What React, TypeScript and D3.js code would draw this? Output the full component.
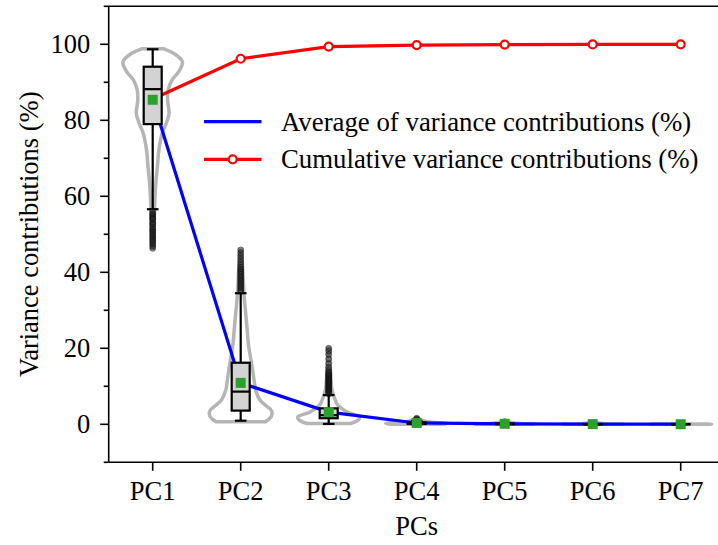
import { useMemo } from "react";
import { area, curveCatmullRom, line, scaleLinear, scalePoint } from "d3";

const WIDTH = 718;
const HEIGHT = 545;

const CATEGORIES = ["PC1", "PC2", "PC3", "PC4", "PC5", "PC6", "PC7"];
const AVERAGE = [85.4, 10.9, 3.2, 0.35, 0.12, 0.05, 0.02];
const CUMULATIVE = [85.6, 96.2, 99.4, 99.8, 99.93, 99.98, 100];

const BOX_Q1 = [79.0, 3.6, 1.6, 0.12, 0.04, 0.01, 0.0];
const BOX_MEDIAN = [88.2, 8.6, 2.4, 0.28, 0.09, 0.03, 0.01];
const BOX_Q3 = [94.1, 16.2, 4.2, 0.5, 0.18, 0.07, 0.03];
const WHISKER_LOW = [56.6, 0.95, 0.1, 0.0, 0.0, 0.0, 0.0];
const WHISKER_HIGH = [98.7, 34.5, 7.7, 0.9, 0.35, 0.14, 0.06];

const OUTLIERS = [
  [56.0, 55.4, 55.1, 54.6, 54.2, 53.9, 53.3, 52.8, 52.5, 51.9, 51.4, 51.0, 50.6, 50.1, 49.7, 49.2, 48.8, 48.4, 47.9, 47.4, 46.9, 46.3],
  [35.0, 35.4, 35.9, 36.3, 36.8, 37.2, 37.7, 38.1, 38.6, 39.0, 39.5, 40.0, 40.4, 40.9, 41.4, 42.0, 42.7, 43.5, 44.3, 45.1, 45.9],
  [8.0, 8.3, 8.6, 8.9, 9.2, 9.5, 9.8, 10.1, 10.4, 10.7, 11.0, 11.3, 11.6, 11.9, 12.2, 12.5, 12.8, 13.1, 13.4, 13.8, 14.3, 15.0, 16.0, 17.2, 18.4, 19.3, 20.0],
  [1.0, 1.2, 1.4, 1.6],
  [0.5, 0.7],
  [],
  [],
];

// [value, relative density]
const VIOLIN_PC1 = [[46.3, 0.03], [54.6, 0.05], [59.0, 0.07], [63.5, 0.1], [67.7, 0.15], [72.2, 0.2], [76.7, 0.31], [79.3, 0.44], [81.9, 0.53], [85.3, 0.48], [88.0, 0.5], [90.6, 0.62], [92.8, 0.84], [95.4, 0.96], [97.5, 0.7], [98.8, 0.36]];
const VIOLIN_PC2 = [[0.7, 0.8], [1.8, 0.97], [3.5, 1.0], [5.0, 0.8], [6.4, 0.62], [9.0, 0.48], [11.7, 0.43], [16.1, 0.35], [20.4, 0.26], [24.8, 0.21], [29.3, 0.16], [33.7, 0.11], [38.0, 0.08], [45.9, 0.03]];
const VIOLIN_PC3 = [[0.2, 0.7], [1.1, 0.95], [1.9, 1.0], [3.3, 0.58], [5.1, 0.29], [6.9, 0.19], [9.0, 0.11], [13.5, 0.06], [20.0, 0.03]];
const VIOLIN_PC4 = [[0.0, 0.8], [0.2, 1.0], [0.5, 0.6], [0.8, 0.25], [1.6, 0.05]];
const VIOLIN_PC5 = [[0.0, 0.8], [0.1, 1.0], [0.3, 0.4], [0.7, 0.04]];
const VIOLIN_PC6 = [[0.0, 0.9], [0.05, 1.0], [0.15, 0.4], [0.4, 0.03]];
const VIOLIN_PC7 = [[0.0, 0.9], [0.03, 1.0], [0.1, 0.4], [0.3, 0.03]];
const VIOLINS = [VIOLIN_PC1, VIOLIN_PC2, VIOLIN_PC3, VIOLIN_PC4, VIOLIN_PC5, VIOLIN_PC6, VIOLIN_PC7];

const Y_TICKS = [0, 20, 40, 60, 80, 100];
const Y_MINOR = [-10, 10, 30, 50, 70, 90, 110];

const FONT = "'Liberation Serif', 'Times New Roman', serif";

export default function App() {
  const left = 108.7;
  const right = 724.7;
  const top = 6.3;
  const bottom = 462.3;

  const x = useMemo(() => scalePoint<string>().domain(CATEGORIES).range([left, right]).padding(0.5), []);
  const y = useMemo(() => scaleLinear().domain([-10, 110]).range([bottom, top]), []);
  const halfWidth = scaleLinear().domain([0, 1]).range([0, 31]);
  const boxHalf = 9;
  const capHalf = 5.8;

  const avgPath = line<number>().x((_, i) => x(CATEGORIES[i])!).y((v) => y(v))(AVERAGE);
  const cumPath = line<number>().x((_, i) => x(CATEGORIES[i])!).y((v) => y(v))(CUMULATIVE);

  return (
    <svg width={WIDTH} height={HEIGHT} style={{ position: "absolute", left: 0, top: 0, background: "#fff" }} fontFamily={FONT}>
      {VIOLINS.map((profile, i) => {
        const cx = x(CATEGORIES[i])!;
        const d = area<number[]>()
          .y((p) => y(p[0]))
          .x0((p) => cx - halfWidth(p[1]))
          .x1((p) => cx + halfWidth(p[1]))
          .curve(curveCatmullRom)(profile);
        return <path key={i} d={d ?? ""} fill="none" stroke="#b5b5b5" strokeWidth={3.5} />;
      })}

      <path d={avgPath ?? ""} fill="none" stroke="#0000ff" strokeWidth={3.2} />
      <path d={cumPath ?? ""} fill="none" stroke="#ff0000" strokeWidth={3.2} />
      {CUMULATIVE.map((v, i) => (
        <circle key={i} cx={x(CATEGORIES[i])} cy={y(v)} r={4} fill="#fff" stroke="#ff0000" strokeWidth={2.2} />
      ))}

      {CATEGORIES.map((c, i) => {
        const cx = x(c)!;
        return (
          <g key={c} stroke="#000" strokeWidth={2.2}>
            <line x1={cx} x2={cx} y1={y(WHISKER_HIGH[i])} y2={y(BOX_Q3[i])} />
            <line x1={cx} x2={cx} y1={y(BOX_Q1[i])} y2={y(WHISKER_LOW[i])} />
            <line x1={cx - capHalf} x2={cx + capHalf} y1={y(WHISKER_HIGH[i])} y2={y(WHISKER_HIGH[i])} />
            <line x1={cx - capHalf} x2={cx + capHalf} y1={y(WHISKER_LOW[i])} y2={y(WHISKER_LOW[i])} />
            <rect x={cx - boxHalf} width={boxHalf * 2} y={y(BOX_Q3[i])} height={y(BOX_Q1[i]) - y(BOX_Q3[i])} fill="#d3d3d3" />
            <line x1={cx - boxHalf} x2={cx + boxHalf} y1={y(BOX_MEDIAN[i])} y2={y(BOX_MEDIAN[i])} />
            {OUTLIERS[i].map((v, k) => (
              <circle key={k} cx={cx} cy={y(v)} r={3} fill="#222" fillOpacity={0.5} stroke="#000" strokeOpacity={0.4} strokeWidth={1} />
            ))}
          </g>
        );
      })}

      {AVERAGE.map((v, i) => (
        <rect key={i} x={x(CATEGORIES[i])! - 5} y={y(v) - 5} width={10} height={10} fill="#2ca02c" />
      ))}

      {/* axes */}
      <g stroke="#000" strokeWidth={1.6} fill="none">
        <line x1={left} x2={left} y1={top} y2={bottom} />
        <line x1={left} x2={right} y1={bottom} y2={bottom} />
        <line x1={left} x2={right} y1={top} y2={top} />
        <line x1={right} x2={right} y1={top} y2={bottom} />
        {Y_TICKS.map((t) => (
          <line key={t} x1={left - 8.5} x2={left} y1={y(t)} y2={y(t)} />
        ))}
        {Y_MINOR.map((t) => (
          <line key={t} x1={left - 5} x2={left} y1={y(t)} y2={y(t)} />
        ))}
        {CATEGORIES.map((c) => (
          <line key={c} x1={x(c)} x2={x(c)} y1={bottom} y2={bottom + 8.5} />
        ))}
      </g>
      <g fontSize={26.5} fill="#000">
        {Y_TICKS.map((t) => (
          <text key={t} x={left - 18.5} y={y(t)} dy="0.34em" textAnchor="end">{t}</text>
        ))}
        {CATEGORIES.map((c) => (
          <text key={c} x={x(c)} y={500} textAnchor="middle">{c}</text>
        ))}
        <text x={(left + right) / 2} y={535} textAnchor="middle">PCs</text>
        <text transform={`translate(38, ${(top + bottom) / 2}) rotate(-90)`} textAnchor="middle">Variance contributions (%)</text>
      </g>

      {/* legend */}
      <g fontSize={26.8}>
        <line x1={204} x2={261.5} y1={121.7} y2={121.7} stroke="#0000ff" strokeWidth={3.2} />
        <text x={281} y={130.5}>Average of variance contributions (%)</text>
        <line x1={204} x2={261.5} y1={159.3} y2={159.3} stroke="#ff0000" strokeWidth={3.2} />
        <circle cx={232.7} cy={159.3} r={4} fill="#fff" stroke="#ff0000" strokeWidth={2.2} />
        <text x={281} y={168}>Cumulative variance contributions (%)</text>
      </g>
    </svg>
  );
}
